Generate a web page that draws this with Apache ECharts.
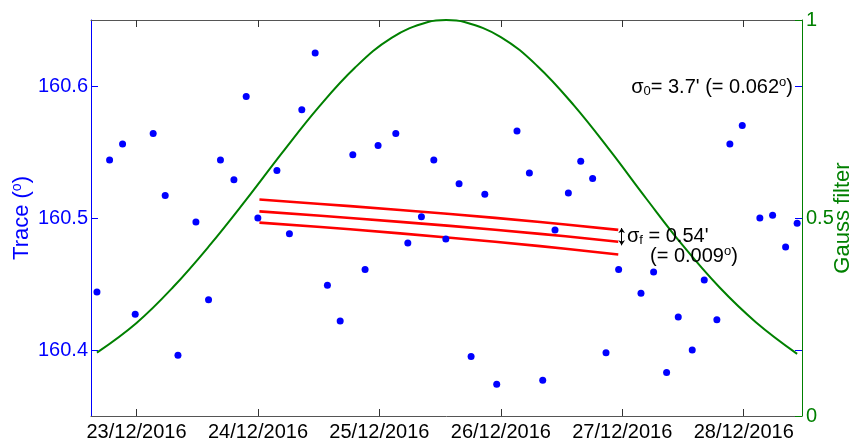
<!DOCTYPE html>
<html><head><meta charset="utf-8">
<script src="https://cdn.jsdelivr.net/npm/echarts@6/dist/echarts.min.js"></script>
<style>html,body{margin:0;padding:0;background:#fff}#c{width:857px;height:440px}</style>
</head><body><div id="c"></div>
<script>
// ---- data ----
const xTickDays = [0, 1, 2, 3, 4, 5];
const xTickLabels = ['23/12/2016','24/12/2016','25/12/2016','26/12/2016','27/12/2016','28/12/2016'];
const traceTicks = [160.4, 160.5, 160.6];
const gaussTicks = [0, 0.5, 1];

// measurement times (days since 23/12/2016 00:00) and trace values (deg)
const dotDays = [-0.326,-0.222,-0.115,-0.011,0.137,0.236,0.341,0.489,0.593,0.691,0.802,0.903,0.999,
  1.156,1.259,1.361,1.471,1.572,1.677,1.781,1.882,1.989,2.135,2.234,2.346,2.448,2.547,2.656,2.755,
  2.868,2.966,3.133,3.235,3.345,3.446,3.556,3.658,3.756,3.866,3.970,4.154,4.258,4.365,4.461,4.576,
  4.675,4.779,4.886,4.988,5.133,5.238,5.345,5.440];
const dotTrace = [160.444,160.544,160.556,160.427,160.564,160.517,160.396,160.497,160.438,160.544,160.529,160.592,160.500,
  160.536,160.488,160.582,160.625,160.449,160.422,160.548,160.461,160.555,160.564,160.481,160.501,160.544,160.484,160.526,160.395,
  160.518,160.374,160.566,160.534,160.377,160.491,160.519,160.543,160.530,160.398,160.461,160.443,160.459,160.383,160.425,160.400,
  160.453,160.423,160.556,160.570,160.500,160.502,160.478,160.496];

// Gauss filter curve (right axis)
const gaussDays = [-0.326,0,0.3,0.6,0.9,1.2,1.5,1.8,2.1,2.4,2.55,2.7,3.0,3.3,3.6,3.9,4.2,4.5,4.8,5.1,5.44];
const gaussValues = [0.16,0.235,0.325,0.43,0.545,0.665,0.78,0.88,0.955,0.995,1.0,0.995,0.957,0.884,0.785,0.67,0.548,0.43,0.325,0.237,0.157];

// filtered trend and +/- sigma_f
const fitDays = [1.012, 1.759, 2.582, 3.323, 3.967];
const fitUpper = [160.514, 160.509, 160.503, 160.497, 160.491];
const fitCenter = [160.505, 160.500, 160.494, 160.488, 160.482];
const fitLower = [160.4965, 160.4915, 160.485, 160.4787, 160.4724];

const zip = (a, b) => a.map((v, i) => [v, b[i]]);
const F = 'Liberation Sans, Arial, sans-serif';
const BLUE = '#0000ff', GREEN = '#008000';

const chart = echarts.init(document.getElementById('c'));
chart.setOption({
  animation: false,
  backgroundColor: '#fff',
  grid: { left: 91, right: 55, top: 20, bottom: 24, outerBoundsMode: 'none', containLabel: false },
  xAxis: [{
    type: 'value', min: -0.375, max: 5.48, position: 'bottom',
    axisLine: { onZero: false, lineStyle: { color: '#555', width: 1 } },
    axisTick: { inside: true, length: 7, customValues: xTickDays, lineStyle: { color: '#333' } },
    axisLabel: { customValues: xTickDays, color: '#000', fontSize: 20, fontFamily: F, margin: 6,
      formatter: v => xTickLabels[xTickDays.indexOf(Math.round(v))] || '' },
    splitLine: { show: false }
  }, {
    type: 'value', min: -0.375, max: 5.48, position: 'top',
    axisLine: { show: true, onZero: false, lineStyle: { color: '#555', width: 1 } },
    axisTick: { inside: true, length: 7, customValues: xTickDays, lineStyle: { color: '#333' } },
    axisLabel: { show: false }, splitLine: { show: false }
  }],
  yAxis: [{
    type: 'value', min: 160.35, max: 160.65, position: 'left',
    name: '{a|Trace (}{s|o}{a|)}', nameLocation: 'middle', nameGap: 57, nameRotate: 90, nameMoveOverlap: false,
    nameTextStyle: { color: BLUE, fontSize: 22, fontFamily: F,
      rich: { a: { color: BLUE, fontSize: 22, fontFamily: F }, s: { color: BLUE, fontSize: 14, fontFamily: F, padding: [0, 0, 10, 0] } } },
    axisLine: { show: true, onZero: false, lineStyle: { color: BLUE, width: 1 } },
    axisTick: { inside: true, length: 7, customValues: traceTicks, lineStyle: { color: BLUE } },
    axisLabel: { customValues: traceTicks, color: BLUE, fontSize: 20, fontFamily: F, margin: 3, formatter: v => v.toFixed(1) },
    splitLine: { show: false }
  }, {
    type: 'value', min: 0, max: 1, position: 'right',
    name: 'Gauss filter', nameLocation: 'middle', nameGap: 30, nameRotate: 90, nameMoveOverlap: false,
    nameTextStyle: { color: GREEN, fontSize: 22, fontFamily: F },
    axisLine: { show: true, onZero: false, lineStyle: { color: GREEN, width: 1 } },
    axisTick: { inside: true, length: 7, customValues: gaussTicks, lineStyle: { color: GREEN } },
    axisLabel: { customValues: gaussTicks, color: GREEN, fontSize: 20, fontFamily: F, margin: 4,
      showMinLabel: true, showMaxLabel: true, formatter: v => String(v) },
    splitLine: { show: false }
  }, {
    type: 'value', min: 160.35, max: 160.65, position: 'right',
    axisLine: { show: false, onZero: false },
    axisTick: { show: true, inside: true, length: 7, customValues: traceTicks, lineStyle: { color: BLUE } },
    axisLabel: { show: false }, splitLine: { show: false }
  }],
  series: [{
    name: 'Gauss filter', type: 'line', yAxisIndex: 1, data: zip(gaussDays, gaussValues),
    smooth: 0.4, symbol: 'none', lineStyle: { color: GREEN, width: 2 }, z: 2
  }, {
    name: 'upper', type: 'line', data: zip(fitDays, fitUpper), smooth: 0.4, symbol: 'none',
    lineStyle: { color: '#ff0000', width: 2.6 }, z: 3
  }, {
    name: 'center', type: 'line', data: zip(fitDays, fitCenter), smooth: 0.4, symbol: 'none',
    lineStyle: { color: '#ff0000', width: 2.6 }, z: 3,
    markLine: {
      silent: true, symbol: ['arrow', 'arrow'], symbolSize: [5, 5],
      lineStyle: { color: '#000', width: 1, type: 'solid' }, label: { show: false },
      data: [[{ coord: [3.995, 160.4924] }, { coord: [3.995, 160.4793] }]]
    }
  }, {
    name: 'lower', type: 'line', data: zip(fitDays, fitLower), smooth: 0.4, symbol: 'none',
    lineStyle: { color: '#ff0000', width: 2.6 }, z: 3
  }, {
    name: 'Trace', type: 'scatter', data: zip(dotDays, dotTrace), symbol: 'circle', symbolSize: 7,
    itemStyle: { color: BLUE, opacity: 1 }, z: 4
  }],
  graphic: [{
    type: 'text', z: 10,
    style: {
      x: 793, y: 87, textAlign: 'right', textVerticalAlign: 'middle',
      text: "{a|σ}{b|0}{a|= 3.7' (= 0.062}{c|o}{a|)}",
      fontSize: 20, fontFamily: F, fill: '#000',
      rich: {
        a: { fontSize: 20, fontFamily: F, fill: '#000' },
        b: { fontSize: 13, fontFamily: F, fill: '#000', padding: [8, 0, 0, 0] },
        c: { fontSize: 13, fontFamily: F, fill: '#000', padding: [0, 0, 10, 0] }
      }
    }
  }, {
    type: 'text', z: 10,
    style: {
      x: 627, y: 236, textAlign: 'left', textVerticalAlign: 'middle',
      text: "{a|σ}{b|f}{a| = 0.54'}",
      fontSize: 20, fontFamily: F, fill: '#000',
      rich: {
        a: { fontSize: 20, fontFamily: F, fill: '#000' },
        b: { fontSize: 13, fontFamily: F, fill: '#000', padding: [8, 0, 0, 0] }
      }
    }
  }, {
    type: 'text', z: 10,
    style: {
      x: 650, y: 256, textAlign: 'left', textVerticalAlign: 'middle',
      text: "{a|(= 0.009}{c|o}{a|)}",
      fontSize: 20, fontFamily: F, fill: '#000',
      rich: {
        a: { fontSize: 20, fontFamily: F, fill: '#000' },
        c: { fontSize: 13, fontFamily: F, fill: '#000', padding: [0, 0, 10, 0] }
      }
    }
  }]
});
</script>
</body></html>
